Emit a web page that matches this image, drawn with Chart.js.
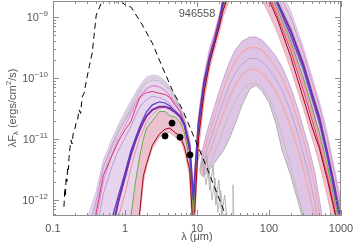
<!DOCTYPE html>
<html>
<head>
<meta charset="utf-8">
<script src="https://cdn.jsdelivr.net/npm/chart.js@4.4.1/dist/chart.umd.min.js"></script>
<style>
  html, body { margin: 0; padding: 0; background: #fff; }
  #wrap { width: 354px; height: 246px; }
</style>
</head>
<body>
<div id="wrap"><canvas id="sedChart" width="354" height="246"></canvas></div>
<script>
// source id printed inside the frame
const sourceName = '946558';

// axis ticks
const xTickValues = [0.1, 1, 10, 100, 1000];
const xTickLabels = ['0.1', '1', '10', '100', '1000'];
const yTickValues = [1e-12, 1e-11, 1e-10, 1e-9];
const yTickExps = ['\u221212', '\u221211', '\u221210', '\u22129'];

// wavelength grid (micron) for the main family of model fits
const modelWl = [0.25, 0.3, 0.4, 0.5, 0.66, 0.8, 1.0, 1.2, 1.4, 1.6, 1.8, 2.0, 2.4, 3.0, 3.6, 4.2, 5.0, 5.8, 6.7, 7.9, 8.9,
                 10.5, 12.5, 15, 17.5, 20.5, 23, 30, 45, 70, 100, 130, 200, 300, 400, 500, 650, 800, 1000];
// log10 of lambda*F_lambda
const upperLog  = [-12.9, -12.3, -11.85, -11.35, -11.0, -10.78, -10.55, -10.38, -10.25, -10.13, -10.05, -9.98, -9.95, -9.97, -10.05, -10.15, -10.3, -10.45, -10.65, -11.0, -11.8,
                   -10.6, -9.95, -9.5, -9.25, -8.95, -8.7, -8.3, -8.0, -7.95, -8.15, -8.45, -8.9, -9.5, -10.0, -10.38, -10.92, -11.45, -12.0];
const lowerLog  = [-13.5, -13.5, -13.5, -13.5, -13.5, -13.5, -13.5, -13.5, -13.0, -12.3, -11.7, -11.45, -11.15, -10.97, -10.9, -10.9, -10.97, -11.0, -11.2, -11.6, -12.8,
                   -11.2, -10.4, -9.85, -9.55, -9.25, -9.0, -8.65, -8.5, -8.6, -8.95, -9.25, -9.85, -10.5, -11.0, -11.4, -11.95, -12.45, -13.0];
const gray2Log  = [-13.2, -12.5, -12.0, -11.5, -11.1, -10.85, -10.62, -10.45, -10.3, -10.18, -10.1, -10.03, -9.99, -10.01, -10.08, -10.18, -10.33, -10.48, -10.68, -11.05, -11.85,
                   -10.66, -10.0, -9.56, -9.3, -9.0, -8.75, -8.36, -8.07, -8.02, -8.25, -8.58, -9.05, -9.62, -10.1, -10.5, -11.05, -11.58, -12.15];
const grayLog   = [-13.5, -13.0, -12.1, -11.6, -11.15, -10.9, -10.68, -10.5, -10.35, -10.23, -10.13, -10.08, -10.03, -10.05, -10.12, -10.2, -10.35, -10.5, -10.7, -11.1, -11.9,
                   -10.7, -10.05, -9.6, -9.33, -9.02, -8.78, -8.4, -8.1, -8.05, -8.3, -8.65, -9.15, -9.7, -10.2, -10.58, -11.15, -11.68, -12.25];
const magLog    = [-13.5, -12.9, -12.3, -11.7, -11.25, -11.0, -10.78, -10.6, -10.45, -10.33, -10.25, -10.18, -10.12, -10.14, -10.2, -10.28, -10.4, -10.52, -10.7, -11.05, -11.95,
                   -10.65, -10.0, -9.55, -9.28, -8.98, -8.72, -8.33, -8.05, -8.0, -8.22, -8.55, -9.0, -9.58, -10.08, -10.45, -11.0, -11.52, -12.1];
const lavLog    = [-13.5, -12.6, -12.0, -11.45, -11.1, -10.9, -10.7, -10.55, -10.4, -10.3, -10.22, -10.17, -10.13, -10.15, -10.2, -10.3, -10.42, -10.55, -10.72, -11.1, -12.2,
                   -10.78, -10.1, -9.66, -9.39, -9.06, -8.78, -8.42, -8.15, -8.12, -8.42, -8.8, -9.35, -9.9, -10.4, -10.78, -11.35, -11.88, -12.45];
const lav2Log   = [-13.5, -13.2, -12.5, -11.9, -11.45, -11.2, -10.98, -10.8, -10.62, -10.48, -10.4, -10.35, -10.3, -10.32, -10.36, -10.42, -10.52, -10.62, -10.8, -11.2, -12.1,
                   -10.82, -10.15, -9.7, -9.42, -9.1, -8.84, -8.45, -8.2, -8.18, -8.5, -8.85, -9.42, -10.02, -10.52, -10.9, -11.45, -11.95, -12.5];
const salmonLog = [-13.5, -13.5, -13.5, -13.5, -12.8, -12.3, -11.9, -11.5, -11.2, -11.0, -10.85, -10.72, -10.6, -10.5, -10.48, -10.52, -10.58, -10.66, -10.83, -11.25, -12.2,
                   -10.88, -10.18, -9.72, -9.44, -9.12, -8.86, -8.47, -8.22, -8.25, -8.6, -8.92, -9.48, -10.1, -10.6, -11.0, -11.55, -12.05, -12.6];
const pinkLog   = [-13.5, -13.0, -12.2, -11.6, -11.27, -11.05, -10.85, -10.72, -10.5, -10.32, -10.27, -10.24, -10.22, -10.25, -10.27, -10.32, -10.45, -10.55, -10.75, -11.2, -12.1,
                   -10.85, -10.18, -9.72, -9.45, -9.13, -8.88, -8.48, -8.25, -8.3, -8.65, -8.98, -9.55, -10.2, -10.7, -11.1, -11.62, -12.1, -12.65];
const blueLog   = [-13.5, -13.5, -13.5, -13.2, -12.3, -11.95, -11.55, -11.2, -10.98, -10.8, -10.66, -10.55, -10.44, -10.39, -10.41, -10.46, -10.55, -10.62, -10.78, -11.18, -12.0,
                   -10.8, -10.12, -9.68, -9.4, -9.07, -8.8, -8.42, -8.15, -8.12, -8.4, -8.78, -9.3, -9.85, -10.35, -10.72, -11.3, -11.82, -12.4];
const purpleLog = [-13.5, -13.5, -13.5, -13.4, -12.5, -12.05, -11.62, -11.27, -11.03, -10.85, -10.72, -10.62, -10.52, -10.47, -10.47, -10.5, -10.56, -10.63, -10.76, -11.12, -12.0,
                   -10.75, -10.08, -9.65, -9.38, -9.05, -8.75, -8.4, -8.15, -8.1, -8.35, -8.75, -9.22, -9.78, -10.28, -10.65, -11.25, -11.75, -12.35];
const greenLog  = [-13.5, -13.5, -13.5, -13.5, -13.5, -13.5, -13.5, -12.3, -11.7, -11.28, -11.0, -10.82, -10.7, -10.55, -10.55, -10.62, -10.64, -10.72, -10.9, -11.35, -12.3,
                   -10.9, -10.2, -9.7, -9.42, -9.1, -8.85, -8.45, -8.2, -8.2, -8.55, -8.87, -9.4, -10.0, -10.5, -10.9, -11.45, -11.95, -12.5];
const bestLog   = [-13.5, -13.5, -13.5, -13.5, -13.5, -13.5, -13.5, -13.5, -12.8, -12.2, -11.6, -11.4, -11.1, -10.92, -10.84, -10.82, -10.9, -10.94, -11.13, -11.5, -12.6,
                   -11.0, -10.25, -9.75, -9.45, -9.15, -8.9, -8.5, -8.25, -8.3, -8.72, -9.03, -9.65, -10.33, -10.82, -11.15, -11.68, -12.15, -12.7];

// second (cold) family of fits
const famWl = [11, 12.1, 14, 16, 20, 23, 28, 34, 42, 54, 66, 80, 100, 125, 152, 200, 250, 287, 350, 436, 545, 700];
const famTopLog  = [-11.51, -11.15, -10.85, -10.62, -10.25, -10.03, -9.75, -9.54, -9.4, -9.33, -9.33, -9.38, -9.5, -9.65, -9.82, -10.15, -10.5, -10.74, -11.1, -11.56, -12.26, -13.2];
const famMid1Log = [-11.52, -11.3, -11.0, -10.78, -10.42, -10.2, -9.93, -9.72, -9.58, -9.5, -9.5, -9.55, -9.67, -9.83, -10.0, -10.33, -10.68, -10.92, -11.3, -11.78, -12.5, -13.4];
const famMid2Log = [-11.53, -11.42, -11.15, -10.95, -10.6, -10.4, -10.12, -9.92, -9.77, -9.68, -9.68, -9.73, -9.85, -10.02, -10.2, -10.55, -10.9, -11.15, -11.55, -12.05, -12.75, -13.6];
const famMid3Log = [-11.54, -11.52, -11.3, -11.12, -10.8, -10.6, -10.33, -10.12, -9.95, -9.86, -9.86, -9.92, -10.05, -10.23, -10.42, -10.8, -11.15, -11.4, -11.82, -12.3, -13.0, -13.8];
const famMid4Log = [-11.545, -11.6, -11.5, -11.35, -11.05, -10.85, -10.6, -10.38, -10.2, -10.1, -10.08, -10.15, -10.32, -10.6, -10.95, -11.45, -11.9, -12.15, -12.65, -13.3, -14, -14.5];
const famBotLog  = [-11.55, -11.62, -11.55, -11.45, -11.3, -11.2, -11.0, -10.75, -10.45, -10.18, -10.12, -10.22, -10.4, -10.75, -11.18, -11.6, -12.0, -12.26, -12.8, -13.5, -14, -14.5];

// stellar photosphere (dashed)
const photWl  = [0.142, 0.146, 0.149, 0.152, 0.156, 0.16, 0.164, 0.167, 0.172, 0.178, 0.184, 0.19, 0.2, 0.209, 0.22, 0.23, 0.242, 0.254, 0.27, 0.285,
                 0.298, 0.32, 0.35, 0.372, 0.398, 0.44, 0.48, 0.55, 0.6, 0.7, 0.8, 0.9, 1.0, 1.22, 1.74, 2.4, 3.3, 4.55, 6.3, 13.6, 24.2, 30];
const photLog = [-12.11, -11.8, -11.95, -11.62, -11.7, -11.45, -11.5, -11.3, -11.15, -11.02, -11.08, -10.92, -10.85, -10.74, -10.68, -10.52, -10.58, -10.31, -10.25, -10.1,
                 -9.98, -9.8, -9.59, -9.3, -8.97, -8.85, -8.74, -8.72, -8.76, -8.73, -8.77, -8.75, -8.8, -8.84, -9.13, -9.43, -9.82, -10.2, -10.52, -11.46, -12.21, -12.45];

// mid-IR spectra (grey, noisy)
const spec1Wl  = [10.4, 11.4, 12.5, 13.7, 15.0, 16.7, 18.3, 20.1, 22.0, 24.2, 26.5];
const spec1Log = [-11.34, -11.18, -11.59, -11.26, -11.84, -11.43, -12.08, -11.67, -12.26, -11.92, -12.4];
const spec2Wl  = [11.0, 12.1, 13.3, 14.6, 16.2, 17.8, 19.5, 21.4, 23.6, 26.1, 31.0, 31.6, 32.6];
const spec2Log = [-11.51, -11.34, -11.75, -11.48, -12.0, -11.64, -12.2, -11.84, -12.4, -12.3, -12.35, -11.75, -12.35];

// IRAC photometry (ergs/cm^2/s)
const iracWl   = [3.6, 4.5, 5.8, 8.0];
const iracFlux = [1.12e-11, 1.82e-11, 1.07e-11, 5.5e-12];

const yMin = Math.pow(10, -12.262);
const yMax = Math.pow(10, -8.738);
const FONT = '"Liberation Sans", Arial, sans-serif';
const TEXT = '#555';

function pts(wl, logs) {
    return wl.map((w, i) => ({ x: w, y: Math.pow(10, logs[i]) }));
}

function line(data, color, width, order, extra) {
    return Object.assign({
        data: data, borderColor: color, borderWidth: width, pointRadius: 0,
        fill: false, order: order
    }, extra || {});
}

const datasets = [
    // 0,1 : envelope of the main family, lavender fill
    line(pts(modelWl, upperLog), 'rgba(215,185,230,0.9)', 1, 30, { fill: 1, backgroundColor: 'rgba(208,172,220,0.5)' }),
    line(pts(modelWl, lowerLog), 'rgba(240,170,170,0.9)', 1, 29),
    // 2 : salmon band between green fit and lower envelope
    line(pts(modelWl, greenLog), 'rgba(0,0,0,0)', 0, 28, { fill: 1, backgroundColor: 'rgba(244,165,165,0.42)' }),
    // 3..8 : cold family
    line(pts(famWl, famTopLog), 'rgba(200,165,215,1)', 1, 27, { fill: 8, backgroundColor: 'rgba(214,182,224,0.8)' }),
    line(pts(famWl, famMid1Log), 'rgba(242,172,172,1)', 1.5, 26),
    line(pts(famWl, famMid2Log), 'rgba(196,160,214,1)', 1, 26),
    line(pts(famWl, famMid3Log), 'rgba(242,172,172,1)', 1.5, 26),
    line(pts(famWl, famMid4Log), 'rgba(190,190,190,1)', 1, 26),
    line(pts(famWl, famBotLog), 'rgba(175,175,175,1)', 1, 26),
    // thin main-family curves
    line(pts(modelWl, gray2Log), 'rgba(200,200,200,1)', 1, 21),
    line(pts(modelWl, grayLog), 'rgba(185,185,185,1)', 1, 20),
    line(pts(modelWl, magLog), 'rgba(228,140,215,1)', 1, 20),
    line(pts(modelWl, lavLog), 'rgba(200,150,220,1)', 1, 20),
    line(pts(modelWl, lav2Log), 'rgba(190,150,215,1)', 1, 20),
    line(pts(modelWl, salmonLog), 'rgba(240,145,145,1)', 1, 20),
    line(pts(spec1Wl, spec1Log), 'rgba(175,175,175,1)', 1, 19),
    line(pts(spec2Wl, spec2Log), 'rgba(185,185,185,1)', 1, 19),
    // highlighted fits
    line(pts(modelWl, pinkLog), 'rgb(226,52,112)', 1, 9),
    line(pts(modelWl, purpleLog), 'rgb(128,42,160)', 2, 8),
    line(pts(modelWl, greenLog), 'rgb(112,168,72)', 1, 7),
    line(pts(modelWl, blueLog), 'rgb(84,62,204)', 1.2, 6),
    line(pts(modelWl, bestLog), 'rgb(160,0,20)', 1, 5),
    // photosphere
    line(pts(photWl, photLog), '#000', 1, 3, { borderDash: [6, 4] }),
    // data points
    {
        type: 'scatter',
        data: iracWl.map((w, i) => ({ x: w, y: iracFlux[i] })),
        pointRadius: 3, pointBackgroundColor: '#000', pointBorderColor: '#000',
        showLine: false, order: 1
    }
];

const framePlugin = {
    id: 'frame',
    afterDatasetsDraw(chart) {
        const { ctx, chartArea: a, scales: { x, y } } = chart;
        ctx.save();
        ctx.strokeStyle = '#8c8c8c';
        ctx.lineWidth = 1;
        ctx.strokeRect(a.left + 0.5, a.top + 0.5, a.right - a.left - 1, a.bottom - a.top - 1);
        ctx.beginPath();
        for (let n = -1; n <= 3; n++) {
            for (let k = 1; k <= 9; k++) {
                const v = k * Math.pow(10, n);
                if (v < 0.1 || v > 1000) continue;
                const px = Math.round(x.getPixelForValue(v)) + 0.5;
                const len = k === 1 ? 6 : 3;
                ctx.moveTo(px, a.bottom); ctx.lineTo(px, a.bottom - len);
                ctx.moveTo(px, a.top); ctx.lineTo(px, a.top + len);
            }
        }
        for (let n = -13; n <= -9; n++) {
            for (let k = 1; k <= 9; k++) {
                const v = k * Math.pow(10, n);
                if (v < yMin || v > yMax) continue;
                const py = Math.round(y.getPixelForValue(v)) + 0.5;
                const len = k === 1 ? 6 : 3;
                ctx.moveTo(a.left, py); ctx.lineTo(a.left + len, py);
                ctx.moveTo(a.right, py); ctx.lineTo(a.right - len, py);
            }
        }
        ctx.stroke();
        ctx.restore();
    },
    afterDraw(chart) {
        const { ctx, chartArea: a, scales: { y } } = chart;
        ctx.save();
        ctx.fillStyle = TEXT;
        // y tick labels with superscript exponents
        yTickValues.forEach((v, i) => {
            const py = y.getPixelForValue(v);
            ctx.font = '8px ' + FONT;
            const ew = ctx.measureText(yTickExps[i]).width;
            ctx.textAlign = 'right';
            ctx.textBaseline = 'alphabetic';
            ctx.fillText(yTickExps[i], a.left - 5, py - 1);
            ctx.font = '11px ' + FONT;
            ctx.fillText('10', a.left - 5 - ew, py + 4);
        });
        // source name
        ctx.font = '11px ' + FONT;
        ctx.textAlign = 'center';
        ctx.textBaseline = 'middle';
        ctx.fillText(sourceName, 197, 14);
        // x title
        ctx.fillText('\u03bb (\u03bcm)', 197, 237);
        // y title, rotated
        ctx.translate(13, 108);
        ctx.rotate(-Math.PI / 2);
        const parts = [
            ['\u03bbF', 11, 0], ['\u03bb', 8, 3], [' (ergs/cm', 11, 0], ['2', 8, -4], ['/s)', 11, 0]
        ];
        let total = 0;
        parts.forEach(p => { ctx.font = p[1] + 'px ' + FONT; total += ctx.measureText(p[0]).width; });
        let cx = -total / 2;
        ctx.textAlign = 'left';
        ctx.textBaseline = 'middle';
        parts.forEach(p => {
            ctx.font = p[1] + 'px ' + FONT;
            ctx.fillText(p[0], cx, p[2]);
            cx += ctx.measureText(p[0]).width;
        });
        ctx.restore();
    }
};

new Chart(document.getElementById('sedChart').getContext('2d'), {
    type: 'line',
    data: { datasets: datasets },
    options: {
        responsive: false,
        animation: false,
        devicePixelRatio: 1,
        layout: { autoPadding: false, padding: { top: 1, right: 13, left: 0, bottom: 0 } },
        plugins: { legend: { display: false }, tooltip: { enabled: false } },
        scales: {
            x: {
                type: 'logarithmic', min: 0.1, max: 1000,
                grid: { display: false, drawTicks: false },
                border: { display: false },
                afterBuildTicks: s => { s.ticks = xTickValues.map(v => ({ value: v })); },
                ticks: {
                    callback: (v, i) => xTickLabels[i],
                    font: { family: FONT, size: 11 }, color: TEXT,
                    padding: 6, maxRotation: 0, autoSkip: false
                },
                afterFit: s => { s.height = 30; s.paddingLeft = 0; s.paddingRight = 0; }
            },
            y: {
                type: 'logarithmic', min: yMin, max: yMax,
                grid: { display: false, drawTicks: false },
                border: { display: false },
                ticks: { display: false },
                afterFit: s => { s.width = 53; s.paddingTop = 0; s.paddingBottom = 0; }
            }
        }
    },
    plugins: [framePlugin]
});
</script>
</body>
</html>
